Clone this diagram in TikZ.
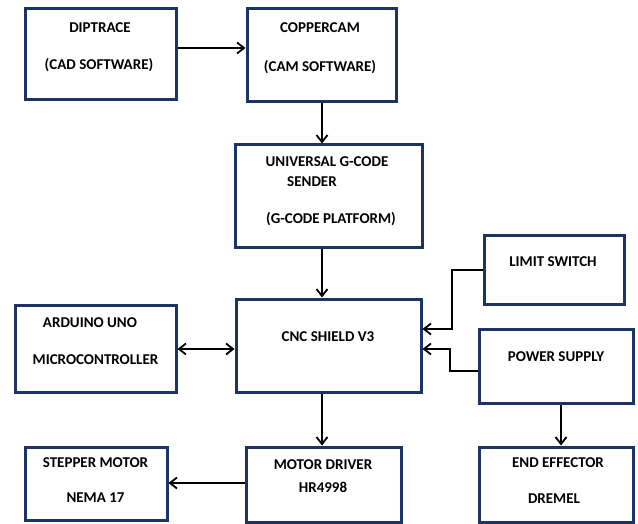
\documentclass[tikz,border=0pt]{standalone}
\usepackage{fontspec}
\setmainfont{Carlito}
\usetikzlibrary{arrows.meta}
\definecolor{boxblue}{RGB}{28,52,100}

\begin{document}
\begin{tikzpicture}[x=1pt,y=-1pt,
		blk/.style={draw=boxblue,line width=3pt,inner sep=0pt},
		lbl/.style={font=\fontsize{15}{17}\selectfont\bfseries,inner sep=0pt,text height=9.7pt,text depth=0pt},
		barb/.tip={Straight Barb[length=7pt,width=11pt,line width=1.8pt]},
		arr/.style={line width=2pt,-barb},
		dblarr/.style={line width=2pt,barb-barb}]

		\useasboundingbox (0,0) rectangle (638,524);

		\node[blk,minimum width=151,minimum height=91] (dip) at (100.5,54.5) {};
		\node[blk,minimum width=149,minimum height=93] (cop) at (321.5,55.5) {};
		\node[blk,minimum width=187,minimum height=103] (ugs) at (328.5,196.5) {};
		\node[blk,minimum width=140,minimum height=69] (lim) at (554,270) {};
		\node[blk,minimum width=161,minimum height=87] (ard) at (95.5,349) {};
		\node[blk,minimum width=185,minimum height=93] (cnc) at (328.5,345.5) {};
		\node[blk,minimum width=154,minimum height=74] (pow) at (556,366) {};
		\node[blk,minimum width=142,minimum height=73] (stp) at (96,483.5) {};
		\node[blk,minimum width=155,minimum height=75] (drv) at (323.5,484.5) {};
		\node[blk,minimum width=154,minimum height=75] (endf) at (556,484.5) {};

		\node[lbl] (dipA) at (100,28) {DIPTRACE};
		\node[lbl] (dipB) at (99,65) {(CAD SOFTWARE)};
		\node[lbl] (copA) at (320,28) {COPPERCAM};
		\node[lbl] (copB) at (320,67) {(CAM SOFTWARE)};
		\node[lbl] (ugsA) at (327,162) {UNIVERSAL G-CODE};
		\node[lbl] (ugsB) at (312,182) {SENDER};
		\node[lbl] (ugsC) at (331,219) {(G-CODE PLATFORM)};
		\node[lbl] (limA) at (553,262) {LIMIT SWITCH};
		\node[lbl] (ardA) at (90,323) {ARDUINO UNO};
		\node[lbl] (ardB) at (95.5,360) {MICROCONTROLLER};
		\node[lbl] (cncA) at (328,337) {CNC SHIELD V3};
		\node[lbl] (powA) at (556,357) {POWER SUPPLY};
		\node[lbl] (stpA) at (95.5,463) {STEPPER MOTOR};
		\node[lbl] (stpB) at (95.5,498) {NEMA 17};
		\node[lbl] (drvA) at (323,465) {MOTOR DRIVER};
		\node[lbl] (drvB) at (323,488) {HR4998};
		\node[lbl] (endA) at (558,463) {END EFFECTOR};
		\node[lbl] (endB) at (554,499) {DREMEL};

		\draw[arr] (dip.east |- 0,48) -- (cop.west |- 0,48);

		\draw[arr] (cop.south -| 322,0) -- (ugs.north -| 322,0);

		\draw[arr] (ugs.south -| 322,0) -- (cnc.north -| 322,0);

		\draw[arr] (cnc.south -| 322,0) -- (drv.north -| 322,0);

		\draw[dblarr] (ard.east) -- (cnc.west |- ard.east);

		\draw[arr] (lim.west) -| (452,329) -- (cnc.east |- 0,329);

		\draw[arr] (pow.west |- 0,371) -| (450,349) -- (cnc.east |- 0,349);

		\draw[arr] (drv.west |- 0,483) -- (stp.east |- 0,483);

		\draw[arr] (pow.south -| 561,0) -- (endf.north -| 561,0);

	\end{tikzpicture}
\end{document}
